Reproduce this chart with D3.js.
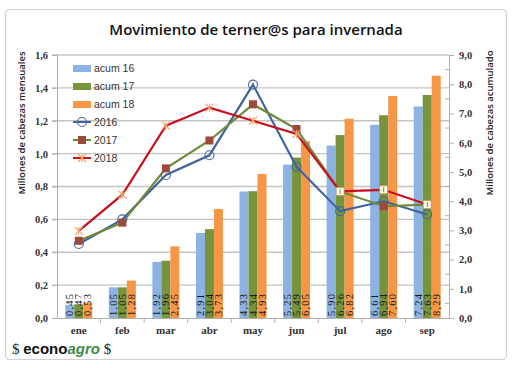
<!DOCTYPE html>
<html><head><meta charset="utf-8">
<script src="https://cdn.jsdelivr.net/npm/d3@7"></script>
<style>html,body{margin:0;padding:0;background:#fff;}svg{display:block;}</style>
</head><body>
<svg id="c" width="513" height="368"></svg>
<script>
const months = ["ene","feb","mar","abr","may","jun","jul","ago","sep"];
const acum16 = [0.45,1.05,1.92,2.91,4.33,5.25,5.90,6.61,7.24];
const acum17 = [0.47,1.05,1.96,3.04,4.34,5.49,6.26,6.94,7.63];
const acum18 = [0.53,1.28,2.45,3.73,4.93,6.05,6.82,7.60,8.29];
const m2016 = [0.45,0.60,0.87,0.99,1.42,0.92,0.65,0.71,0.63];
const m2017 = [0.47,0.58,0.91,1.08,1.30,1.15,0.77,0.68,0.69];
const m2018 = [0.53,0.75,1.17,1.28,1.20,1.12,0.77,0.78,0.69];
const leftTicks = [0,0.2,0.4,0.6,0.8,1.0,1.2,1.4,1.6];
const rightTicks = [0,1,2,3,4,5,6,7,8,9];

const svg = d3.select("#c");
const L=57, R=449, T=55, B=318;
const fmt = d3.format(".2f"), comma = s => s.replace(".", ",");

// frame
svg.append("rect").attr("x",5.5).attr("y",9.5).attr("width",501).attr("height",350).attr("rx",4)
  .attr("fill","#fff").attr("stroke","#d0d0d0").attr("stroke-width",1.2);

svg.append("text").attr("x",256).attr("y",35).attr("text-anchor","middle")
  .attr("font-family","Open Sans, Liberation Sans, sans-serif").attr("font-weight",600).attr("font-size",15)
  .attr("fill","#111").text("Movimiento de terner@s para invernada");

const x = d3.scaleBand().domain(months).range([L,R]).paddingInner(0.38).paddingOuter(0.19);
const xi = d3.scaleBand().domain([0,1,2]).range([0,x.bandwidth()]);
const yL = d3.scaleLinear().domain([0,1.6]).range([B,T]);
const yR = d3.scaleLinear().domain([0,9]).range([B,T]);
const cx = m => x(m)+x.bandwidth()/2;

// grid
svg.append("g").selectAll("line").data(leftTicks.slice(1)).join("line")
  .attr("x1",L-5).attr("x2",R).attr("y1",d=>yL(d)).attr("y2",d=>yL(d))
  .attr("stroke","#c4c4c4").attr("stroke-width",1.3);

// left axis
const gl = svg.append("g").attr("transform",`translate(${L},0)`)
  .call(d3.axisLeft(yL).tickValues(leftTicks).tickFormat(d=>comma(d3.format(".1f")(d))).tickSize(5).tickPadding(4));
gl.select(".domain").attr("stroke","#b0b0b0");
gl.selectAll(".tick line").attr("stroke","#b0b0b0");
gl.selectAll("text").attr("font-family","Liberation Serif, serif").attr("font-size",10.5).attr("font-weight",700).attr("fill","#333");

// right axis
const gr = svg.append("g").attr("transform",`translate(${R},0)`)
  .call(d3.axisRight(yR).tickValues(rightTicks).tickFormat(d=>comma(d3.format(".1f")(d))).tickSize(5).tickPadding(5));
gr.select(".domain").attr("stroke","#b0b0b0");
gr.selectAll(".tick line").attr("stroke","#b0b0b0");
gr.selectAll("text").attr("font-family","Liberation Serif, serif").attr("font-size",10.5).attr("font-weight",700).attr("fill","#333");
svg.append("g").selectAll("line").data(rightTicks.slice(0,-1).map(d=>d+0.5)).join("line")
  .attr("x1",R-4).attr("x2",R).attr("y1",d=>yR(d)).attr("y2",d=>yR(d)).attr("stroke","#b0b0b0");

// bottom axis
svg.append("line").attr("x1",L).attr("x2",R).attr("y1",B+0.5).attr("y2",B+0.5).attr("stroke","#b0b0b0");
svg.append("g").selectAll("line").data(months.slice(1)).join("line")
  .attr("x1",d=>x(d)-x.step()*x.paddingInner()/2).attr("x2",d=>x(d)-x.step()*x.paddingInner()/2)
  .attr("y1",B).attr("y2",B+5).attr("stroke","#b0b0b0");
svg.append("g").selectAll("text").data(months).join("text")
  .attr("x",d=>cx(d)).attr("y",B+16).attr("text-anchor","middle")
  .attr("font-family","Liberation Serif, serif").attr("font-size",11).attr("font-weight",700).attr("fill","#333").text(d=>d);

// axis titles
svg.append("text").attr("transform","translate(25,123) rotate(-90)").attr("text-anchor","middle")
  .attr("font-family","Open Sans, Liberation Sans, sans-serif").attr("font-weight",600).attr("font-size",9.5).attr("fill","#222")
  .text("Millones de cabezas mensuales");
svg.append("text").attr("transform","translate(493,123) rotate(-90)").attr("text-anchor","middle")
  .attr("font-family","Open Sans, Liberation Sans, sans-serif").attr("font-weight",600).attr("font-size",9.5).attr("fill","#222")
  .text("Millones de cabezas acumulado");

// bars
const barSeries = [
  {name:"acum 16", vals:acum16, color:"#8db3e2"},
  {name:"acum 17", vals:acum17, color:"#77933c"},
  {name:"acum 18", vals:acum18, color:"#f79646"}];
barSeries.forEach((s,si)=>{
  const g = svg.append("g");
  g.selectAll("rect").data(s.vals).join("rect")
    .attr("x",(d,i)=>x(months[i])+xi(si)).attr("width",xi.bandwidth())
    .attr("y",d=>yR(d)).attr("height",d=>B-yR(d)).attr("fill",s.color);
  g.selectAll("text").data(s.vals).join("text")
    .attr("transform",(d,i)=>`translate(${x(months[i])+xi(si)+xi.bandwidth()/2+3.5},${B-2}) rotate(-90)`)
    .attr("font-family","Liberation Serif, serif").attr("font-size",10.5).attr("fill","#1a1a1a")
    .attr("letter-spacing",1.2)
    .text(d=>comma(fmt(d)));
});

// lines
const lineSeries = [
  {name:"2016", vals:m2016, color:"#41649d", marker:"circle"},
  {name:"2017", vals:m2017, color:"#6f8b3a", marker:"square"},
  {name:"2018", vals:m2018, color:"#c8101c", marker:"star"}];
const lineGen = d3.line().x((d,i)=>cx(months[i])).y(d=>yL(d));
function drawMarker(g, type, px, py, idx){
  if(type==="circle"){
    g.append("circle").attr("cx",px).attr("cy",py).attr("r",4.5).attr("fill","none").attr("stroke","#41649d").attr("stroke-width",1.1);
  } else if(type==="square"){
    g.append("rect").attr("x",px-4).attr("y",py-4).attr("width",8).attr("height",8).attr("fill","#9c4a3a");
  } else {
    if(idx!==undefined && idx>=6){
      g.append("rect").attr("x",px-4).attr("y",py-4).attr("width",8).attr("height",8).attr("fill","#fffbe8").attr("stroke","#b89a60").attr("stroke-width",0.8);
      g.append("line").attr("x1",px).attr("x2",px).attr("y1",py-2.5).attr("y2",py+2.5).attr("stroke","#7a5a30").attr("stroke-width",0.8);
    } else {
      const s=4;
      [[-s,-s,s,s],[-s,s,s,-s],[0,-s,0,s]].forEach(a=>g.append("line")
        .attr("x1",px+a[0]).attr("y1",py+a[1]).attr("x2",px+a[2]).attr("y2",py+a[3])
        .attr("stroke","#f2a36a").attr("stroke-width",1.1));
    }
  }
}
lineSeries.forEach(s=>{
  svg.append("path").datum(s.vals).attr("d",lineGen).attr("fill","none").attr("stroke",s.color).attr("stroke-width",2.2);
});
lineSeries.forEach(s=>{
  const g = svg.append("g");
  s.vals.forEach((v,i)=>drawMarker(g,s.marker,cx(months[i]),yL(v),i));
});

// legend
const lg = svg.append("g");
barSeries.forEach((s,i)=>{
  const yy = 68+i*18;
  lg.append("rect").attr("x",73).attr("y",yy-3).attr("width",18).attr("height",7).attr("fill",s.color);
  lg.append("text").attr("x",94).attr("y",yy+4).attr("font-family","Liberation Sans, sans-serif").attr("font-size",10.5).attr("fill","#333").text(s.name);
});
lineSeries.forEach((s,i)=>{
  const yy = 122+i*18;
  lg.append("line").attr("x1",73).attr("x2",91).attr("y1",yy).attr("y2",yy).attr("stroke",s.color).attr("stroke-width",2);
  drawMarker(lg,s.marker,82,yy);
  lg.append("text").attr("x",94).attr("y",yy+4).attr("font-family","Liberation Sans, sans-serif").attr("font-size",10.5).attr("fill","#333").text(s.name);
});

// logo
const logo = svg.append("text").attr("x",12).attr("y",354).attr("font-size",15);
logo.append("tspan").attr("font-family","Liberation Serif, serif").attr("fill","#222").text("$ ");
logo.append("tspan").attr("font-family","Liberation Sans, sans-serif").attr("font-weight",700).attr("fill","#111").text("econo");
logo.append("tspan").attr("font-family","Liberation Sans, sans-serif").attr("font-weight",700).attr("font-style","italic").attr("fill","#3f8a4a").text("agro");
logo.append("tspan").attr("font-family","Liberation Serif, serif").attr("fill","#222").text(" $");
</script>
</body></html>
